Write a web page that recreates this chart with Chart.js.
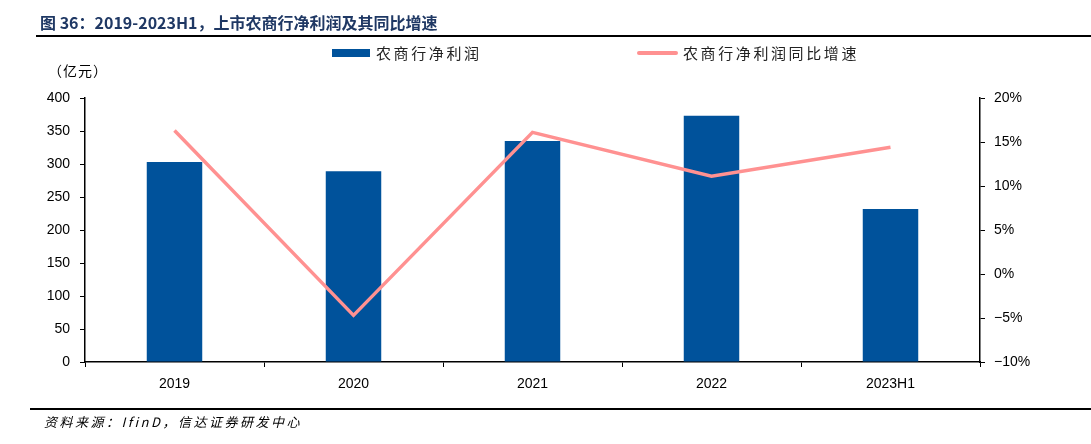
<!DOCTYPE html>
<html>
<head>
<meta charset="utf-8">
<script src="https://cdn.jsdelivr.net/npm/chart.js@4.4.1/dist/chart.umd.min.js"></script>
<style>
  body { margin: 0; background: #fff; }
  #wrap { position: relative; width: 1091px; height: 444px; overflow: hidden; font-family: "Noto Sans CJK SC", sans-serif; }
  #title { position: absolute; left: 40px; top: 10px; font-size: 16px; font-weight: bold; color: #1f3864; white-space: nowrap; }
  #rule-top { position: absolute; left: 36px; right: 0; top: 35px; height: 2px; background: #000; }
  #rule-bottom { position: absolute; left: 30px; right: 0; top: 408px; height: 2px; background: #000; }
  #source { position: absolute; left: 44px; top: 412px; font-size: 13px; letter-spacing: 2.5px; font-style: italic; color: #000; white-space: nowrap; }
  #unit { position: absolute; left: 48px; top: 60px; font-size: 14px; letter-spacing: 1px; color: #000; }
  .leg { position: absolute; top: 42px; font-size: 15px; letter-spacing: 2.6px; color: #222; white-space: nowrap; display: flex; align-items: center; }
  .leg .box { width: 38px; height: 8px; background: #00529b; margin-right: 6px; }
  .leg .ln { width: 41px; height: 4px; border-radius: 2px; background: #ff9191; margin-right: 5px; }
  canvas { position: absolute; left: 0; top: 0; }
</style>
</head>
<body>
<div id="wrap">
  <canvas id="chart" width="1091" height="444"></canvas>
  <div id="title">图 36：2019-2023H1，上市农商行净利润及其同比增速</div>
  <div id="rule-top"></div>
  <div class="leg" style="left:332px"><span class="box"></span>农商行净利润</div>
  <div class="leg" style="left:637px"><span class="ln"></span>农商行净利润同比增速</div>
  <div id="unit">（亿元）</div>
  <div id="rule-bottom"></div>
  <div id="source">资料来源：IfinD，信达证券研发中心</div>
</div>
<script>
const categories = ["2019", "2020", "2021", "2022", "2023H1"];
const netProfit = [303, 289, 335, 373, 232];
const growthRate = [16.3, -4.7, 16.1, 11.1, 14.4];

const tickFont = { family: "'Liberation Sans', Arial, sans-serif", size: 14 };

new Chart(document.getElementById("chart"), {
  data: {
    labels: categories,
    datasets: [
      {
        type: "line",
        label: "农商行净利润同比增速",
        data: growthRate,
        yAxisID: "y1",
        borderColor: "#ff9191",
        borderWidth: 3.5,
        pointRadius: 0,
        tension: 0,
        order: 0,
      },
      {
        type: "bar",
        label: "农商行净利润",
        data: netProfit,
        yAxisID: "y",
        backgroundColor: "#00529b",
        categoryPercentage: 1,
        barPercentage: 0.31,
        order: 1,
      },
    ],
  },
  options: {
    responsive: false,
    animation: false,
    layout: { padding: { top: 98, left: 0, right: 0, bottom: 0 } },
    plugins: {
      legend: { display: false },
      tooltip: { enabled: false },
    },
    scales: {
      x: {
        grid: { drawOnChartArea: false, color: "#000", tickLength: 5, offset: true },
        border: { color: "#000", width: 1.5 },
        ticks: { color: "#000", font: tickFont, padding: 9 },
        afterFit: (s) => { s.height = 82; },
      },
      y: {
        position: "left",
        min: 0,
        max: 400,
        grid: { drawOnChartArea: false, color: "#000", tickLength: 5 },
        border: { color: "#000", width: 1.5 },
        ticks: { stepSize: 50, color: "#000", font: tickFont, padding: 10 },
        afterFit: (s) => { s.width = 85; },
      },
      y1: {
        position: "right",
        min: -10,
        max: 20,
        grid: { drawOnChartArea: false, color: "#000", tickLength: 5 },
        border: { color: "#000", width: 1.5 },
        ticks: {
          stepSize: 5,
          color: "#000",
          font: tickFont,
          padding: 9,
          callback: (v) => (v < 0 ? "\u2212" + Math.abs(v) : v) + "%",
        },
        afterFit: (s) => { s.width = 111; },
      },
    },
  },
});
</script>
</body>
</html>
